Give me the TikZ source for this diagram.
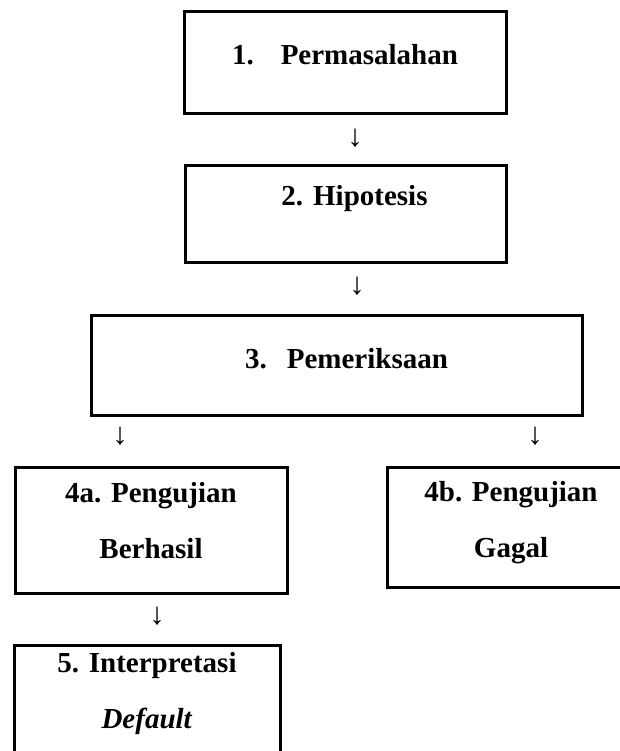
\documentclass[tikz,border=0pt]{standalone}
\usepackage{fontspec}
\setmainfont{Liberation Serif}
\usetikzlibrary{positioning}

\tikzset{
  box/.style    ={draw=black,line width=3pt,align=center,inner sep=0pt,
                  font=\fontsize{29pt}{56pt}\selectfont\bfseries,text height=20pt},
  twoline/.style={box,text height=76pt},
  arr/.style    ={font=\fontsize{31pt}{31pt}\selectfont,inner sep=0pt},
}

\begin{document}
\begin{tikzpicture}[x=1pt,y=-1pt]
\useasboundingbox (0,0) rectangle (620,751);

% main chain
\node[box,minimum width=322pt,minimum height=102pt,text depth=16pt] (perm) at (345,63)
  {1.\hspace{27pt}Permasalahan};
\node[box,minimum width=321pt,minimum height=96pt,text depth=38pt] (hipo) at (345.5,214)
  {\hspace*{18pt}2.\hspace{10pt}Hipotesis};
\node[box,minimum width=491pt,minimum height=100pt,text depth=14pt] (periksa) at (336.5,365)
  {\hspace*{20pt}3.\hspace{20pt}Pemeriksaan};

% two outcomes
\node[twoline,minimum width=272pt,minimum height=126pt,text depth=20pt] (berhasil) at (151,530)
  {4a. Pengujian\\Berhasil};
\node[twoline,minimum width=248pt,minimum height=120pt,text depth=16pt] (gagal) at (511,527)
  {4b. Pengujian\\Gagal};
\node[twoline,minimum width=266pt,minimum height=130pt,text depth=40pt] (interp) at (147,710)
  {5. Interpretasi\\\textit{Default}};

% arrows between the steps
\node[arr] (a1) at (355,138.5) {↓};
\node[arr] (a2) at (357,286) {↓};
\node[arr] (a3) at (120,436.5) {↓};
\node[arr] (a4) at (535,436.5) {↓};
\node[arr] (a5) at (157,616) {↓};
\end{tikzpicture}
\end{document}
